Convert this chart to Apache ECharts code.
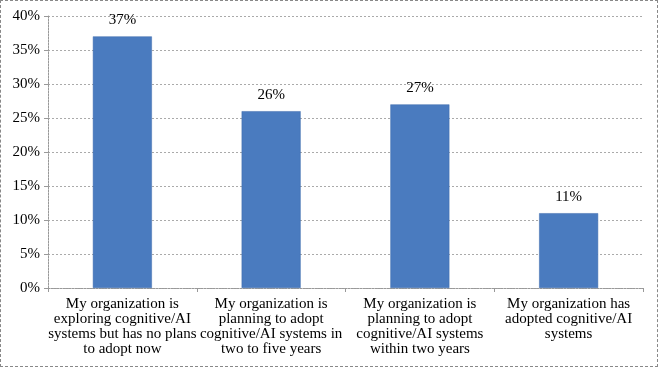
<!DOCTYPE html>
<html><head><meta charset="utf-8">
<script src="https://cdn.jsdelivr.net/npm/echarts@6/dist/echarts.min.js"></script>
<style>html,body{margin:0;padding:0;background:#fff}#c{width:658px;height:367px;box-sizing:border-box;border:1px dashed #888}</style>
</head><body><div id="c"></div>
<script>
const categories = [
  "My organization is\nexploring cognitive/AI\nsystems but has no plans\nto adopt now",
  "My organization is\nplanning to adopt\ncognitive/AI systems in\ntwo to five years",
  "My organization is\nplanning to adopt\ncognitive/AI systems\nwithin two years",
  "My organization has\nadopted cognitive/AI\nsystems"
];
const values = [37, 26, 27, 11];
const yMin = 0, yMax = 40, yStep = 5;
const font = "'Liberation Serif', 'DejaVu Serif', serif";
const chart = echarts.init(document.getElementById('c'));
chart.setOption({
  animation: false,
  grid: {left: 47, right: 14, top: 15, bottom: 78},
  xAxis: {
    type: 'category', data: categories,
    axisLine: {lineStyle: {color: '#999', type: [2, 1]}},
    axisTick: {show: true, lineStyle: {color: '#999'}, length: 4},
    axisLabel: {color: '#000', fontFamily: font, fontSize: 15, lineHeight: 15, margin: 9, interval: 0}
  },
  yAxis: {
    type: 'value', min: yMin, max: yMax, interval: yStep,
    axisLine: {show: true, lineStyle: {color: '#999', type: [2, 1]}},
    axisTick: {show: true, lineStyle: {color: '#999'}, length: 4},
    splitLine: {lineStyle: {color: '#aaa', type: [2, 2]}},
    axisLabel: {color: '#000', fontFamily: font, fontSize: 15, formatter: v => v + '%', margin: 8}
  },
  series: [{
    type: 'bar', data: values, barWidth: 59,
    itemStyle: {color: '#4a7bbf', borderColor: '#3d6bad', borderWidth: 0.5},
    label: {show: true, position: 'top', formatter: p => p.value + '%', color: '#000', fontFamily: font, fontSize: 15, distance: 9}
  }]
});
</script></body></html>
